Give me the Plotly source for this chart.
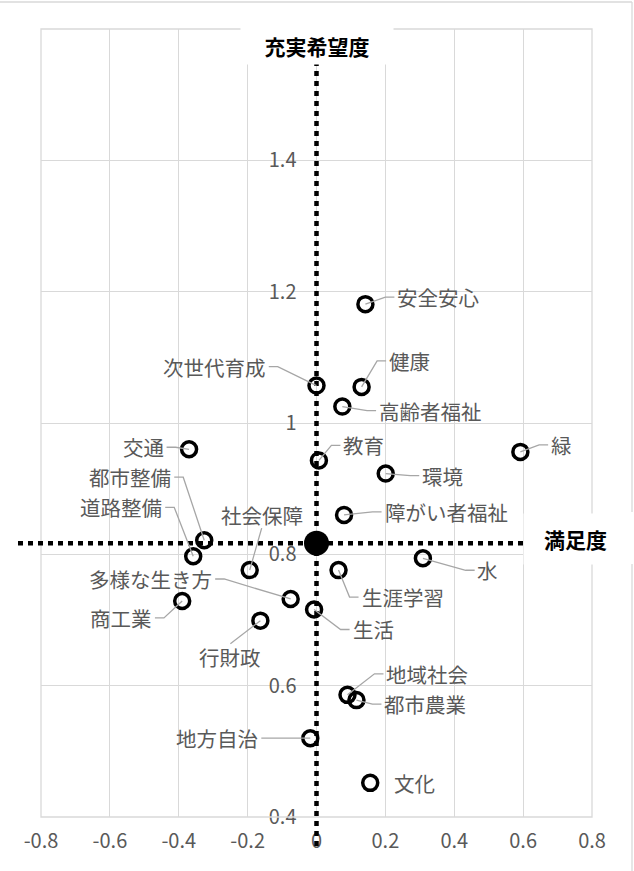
import plotly.graph_objects as go

# ---------------- data ----------------
ITEMS = ["安全安心", "次世代育成", "健康", "高齢者福祉", "交通", "教育", "緑", "環境",
         "都市整備", "道路整備", "社会保障", "障がい者福祉", "水", "生涯学習",
         "多様な生き方", "商工業", "生活", "行財政", "地域社会", "都市農業", "地方自治", "文化"]
SATISFACTION = [0.142, 0.000, 0.131, 0.075, -0.370, 0.007, 0.592, 0.201,
                -0.326, -0.358, -0.194, 0.080, 0.309, 0.064,
                -0.075, -0.390, -0.007, -0.163, 0.090, 0.116, -0.018, 0.156]
IMPROVEMENT = [1.181, 1.057, 1.055, 1.025, 0.960, 0.943, 0.956, 0.923,
               0.8215, 0.797, 0.776, 0.860, 0.794, 0.776,
               0.732, 0.729, 0.716, 0.699, 0.586, 0.578, 0.520, 0.452]
AVERAGE_X = 0.0
AVERAGE_Y = 0.817

X_RANGE = [-0.8, 0.8]
Y_RANGE = [0.4, 1.6]
X_TICKS = [-0.8, -0.6, -0.4, -0.2, 0.0, 0.2, 0.4, 0.6, 0.8]
X_TICK_LABELS = ["-0.8", "-0.6", "-0.4", "-0.2", "0", "0.2", "0.4", "0.6", "0.8"]
Y_TICKS = [0.4, 0.6, 0.8, 1.0, 1.2, 1.4]
Y_TICK_LABELS = ["0.4", "0.6", "0.8", "1", "1.2", "1.4"]

X_TITLE = "満足度"
Y_TITLE = "充実希望度"

# ---------------- layout config (label placement, px offsets from point) ----------------
LABEL_OFFSETS = {
    "安全安心": (73, -7), "次世代育成": (-102, -19), "健康": (48, -26), "高齢者福祉": (88, 4),
    "交通": (-46, -2), "教育": (45, -15), "緑": (41, -7), "環境": (57, 2),
    "都市整備": (-74, -63), "道路整備": (-72, -49), "社会保障": (12, -55),
    "障がい者福祉": (102, -3), "水": (65, 12), "生涯学習": (64, 27),
    "多様な生き方": (-140, -20), "商工業": (-61, 17), "生活": (59, 20), "行財政": (-30, 36),
    "地域社会": (80, -21), "都市農業": (69, 4), "地方自治": (-93, 0), "文化": (44, 0),
}
NO_LEADER = {"文化"}

W, H = 634, 871
ML, MR, MT, MB = 41, 42, 29, 54
PW, PH = W - ML - MR, H - MT - MB
FONT = "Noto Sans CJK JP"
LABEL_SIZE = 20.5
CHAR_W = 20.5
GRID = "#d9d9d9"
TXT = "#595959"
LEADER = "#a6a6a6"


def px_to_paper_x(px):
    return (px - ML) / PW


def px_to_paper_y(py):
    return (H - MB - py) / PH


fig = go.Figure()

fig.add_trace(go.Scatter(
    x=SATISFACTION, y=IMPROVEMENT, mode="markers",
    marker=dict(symbol="circle-open", size=15, color="black", line=dict(width=3.5, color="black")),
    hoverinfo="text", text=ITEMS, showlegend=False, cliponaxis=False,
))
fig.add_trace(go.Scatter(
    x=[AVERAGE_X], y=[AVERAGE_Y], mode="markers",
    marker=dict(symbol="circle", size=25, color="black"),
    showlegend=False, cliponaxis=False,
))

shapes = []
annotations = []

# plot border
shapes.append(dict(type="rect", xref="paper", yref="paper", x0=0, x1=1, y0=0, y1=1,
                   line=dict(color=GRID, width=1.3), layer="above"))
# outer chart border (top and right, with gap behind the x title box)
top_y = px_to_paper_y(2)
right_x = px_to_paper_x(632)
shapes.append(dict(type="line", xref="paper", yref="paper", x0=px_to_paper_x(0), x1=right_x,
                   y0=top_y, y1=top_y, line=dict(color=GRID, width=1.3)))
shapes.append(dict(type="line", xref="paper", yref="paper", x0=right_x, x1=right_x,
                   y0=top_y, y1=px_to_paper_y(512), line=dict(color=GRID, width=1.3)))
shapes.append(dict(type="line", xref="paper", yref="paper", x0=right_x, x1=right_x,
                   y0=px_to_paper_y(564), y1=px_to_paper_y(H), line=dict(color=GRID, width=1.3)))

# dotted reference lines through the average
shapes.append(dict(type="line", xref="x", yref="paper", x0=AVERAGE_X, x1=AVERAGE_X,
                   y0=px_to_paper_y(846), y1=1.0,
                   line=dict(color="black", width=4.5, dash="5px,5px"), layer="above"))
shapes.append(dict(type="line", xref="paper", yref="y", x0=px_to_paper_x(18), x1=0.95,
                   y0=AVERAGE_Y, y1=AVERAGE_Y,
                   line=dict(color="black", width=4.5, dash="5px,5px"), layer="above"))

# data labels with leader lines
for name, xv, yv in zip(ITEMS, SATISFACTION, IMPROVEMENT):
    dx, dy = LABEL_OFFSETS[name]
    annotations.append(dict(x=xv, y=yv, xref="x", yref="y", text=name, showarrow=False,
                            xshift=dx, yshift=-dy,
                            font=dict(family=FONT, size=LABEL_SIZE, color=TXT)))
    if name in NO_LEADER:
        continue
    hw = len(name) * CHAR_W / 2
    if abs(dx) > hw + 4:
        s = 1 if dx > 0 else -1
        xe = dx - s * (hw + 3)
        ex = xe - s * 9
        path = f"M0,0 L{ex},{-dy} L{xe},{-dy}"
    else:
        sy = 1 if dy > 0 else -1
        path = f"M0,0 L{dx},{-(dy - sy * 13)}"
    shapes.append(dict(type="path", xref="x", yref="y", xsizemode="pixel", ysizemode="pixel",
                       xanchor=xv, yanchor=yv, path=path,
                       line=dict(color=LEADER, width=1.3), layer="above"))

# axis titles with white boxes
annotations.append(dict(text="<b>" + Y_TITLE + "</b>", x=AVERAGE_X, xref="x",
                        y=px_to_paper_y(45.5), yref="paper", showarrow=False,
                        bgcolor="white", width=152, height=37, borderpad=0,
                        xanchor="center", yanchor="middle",
                        font=dict(family=FONT, size=21, color="black")))
annotations.append(dict(text="<b>" + X_TITLE + "</b>", x=px_to_paper_x(523), xref="paper",
                        y=px_to_paper_y(539), yref="paper", showarrow=False,
                        bgcolor="white", width=103, height=50, borderpad=0,
                        xanchor="left", yanchor="middle", valign="middle",
                        font=dict(family=FONT, size=21, color="black")))

fig.update_layout(
    width=W, height=H,
    margin=dict(l=ML, r=MR, t=MT, b=MB, pad=0),
    paper_bgcolor="white", plot_bgcolor="white",
    font=dict(family=FONT, size=20, color=TXT),
    shapes=shapes, annotations=annotations,
    xaxis=dict(range=X_RANGE, tickvals=X_TICKS, ticktext=X_TICK_LABELS,
               showgrid=True, gridcolor=GRID, gridwidth=1.3, zeroline=False, showline=False,
               ticks="outside", ticklen=6, tickcolor="rgba(0,0,0,0)",
               tickfont=dict(family=FONT, size=20, color=TXT)),
    yaxis=dict(range=Y_RANGE, tickvals=Y_TICKS, ticktext=Y_TICK_LABELS,
               anchor="free", position=0.5,
               showgrid=True, gridcolor=GRID, gridwidth=1.3, zeroline=False, showline=False,
               ticks="outside", ticklen=16, tickcolor="rgba(0,0,0,0)",
               tickfont=dict(family=FONT, size=20, color=TXT)),
)

fig.write_html("out.html", config={"displayModeBar": False},
               post_script="document.body.style.margin='0px';")
